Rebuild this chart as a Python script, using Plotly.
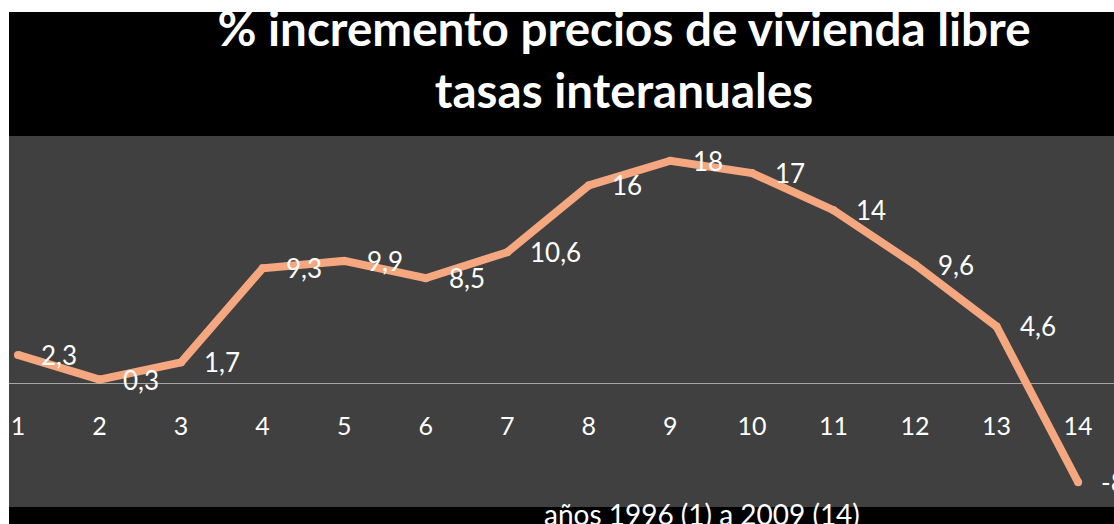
import plotly.graph_objects as go

years_idx = list(range(1, 15))
values = [2.3, 0.3, 1.7, 9.3, 9.9, 8.5, 10.6, 16, 18, 17, 14, 9.6, 4.6, -8]
labels = [f"{v:g}".replace(".", ",") for v in values]
tick_labels = [str(i) for i in years_idx]

title_text = "% incremento precios de vivienda libre<br>tasas interanuales"
xaxis_title = "años 1996 (1) a 2009 (14)"

LINE = "#F5A77F"
W, H = 1114, 524
ml, mr, mt, mb = 9, 0, 136, 17
pw, ph = W - ml - mr, H - mt - mb

fig = go.Figure()
fig.add_trace(go.Scatter(
    x=years_idx, y=values, mode="lines+markers",
    line=dict(color=LINE, width=8),
    marker=dict(color=LINE, size=8),
    hoverinfo="skip", cliponaxis=False,
))

for x, y, t in zip(years_idx, values, labels):
    fig.add_annotation(x=x, y=y, text=t, showarrow=False, xanchor="left",
                       yanchor="middle", xshift=21, yshift=0,
                       font=dict(family="Lato", size=26, color="white"))

# axis caption (offset to the right as in the original)
fig.add_annotation(xref="paper", yref="paper", x=(702 - ml) / pw, y=(ph + mt - 495) / ph,
                   xanchor="center", yanchor="top", showarrow=False, text=xaxis_title,
                   font=dict(family="Lato", size=28, color="white"))

# white border strips (left and top) around the black chart
fig.add_shape(type="rect", xref="paper", yref="paper", layer="below",
              x0=-ml / pw - 0.01, x1=0, y0=-mb / ph - 0.05, y1=(ph + mt) / ph + 0.05,
              fillcolor="white", line_width=0)
fig.add_shape(type="rect", xref="paper", yref="paper", layer="below",
              x0=-ml / pw - 0.01, x1=1.01, y0=(ph + mt - 12) / ph, y1=(ph + mt) / ph + 0.05,
              fillcolor="white", line_width=0)

fig.update_layout(
    width=W, height=H,
    margin=dict(l=ml, r=mr, t=mt, b=mb, pad=0),
    paper_bgcolor="black", plot_bgcolor="#404040",
    showlegend=False,
    title=dict(text=title_text, x=624 / W, xanchor="center", xref="container",
               y=1 - 46 / H, yanchor="top", yref="container",
               font=dict(family="Lato", size=47.6, color="white", weight="bold")),
    xaxis=dict(range=[0.89, 14.44], tickvals=years_idx, ticktext=tick_labels,
               anchor="free", position=1 / 3, showgrid=False, zeroline=False,
               showline=False, ticks="outside", ticklen=21,
               tickcolor="rgba(0,0,0,0)",
               tickfont=dict(family="Lato", size=25, color="white")),
    yaxis=dict(range=[-10, 20], showgrid=False, showticklabels=False,
               zeroline=True, zerolinecolor="#A6A6A6", zerolinewidth=1,
               ticks=""),
)

fig.write_html("out.html", config={"displayModeBar": False},
               post_script="document.body.style.margin='0';document.body.style.overflow='hidden';")
